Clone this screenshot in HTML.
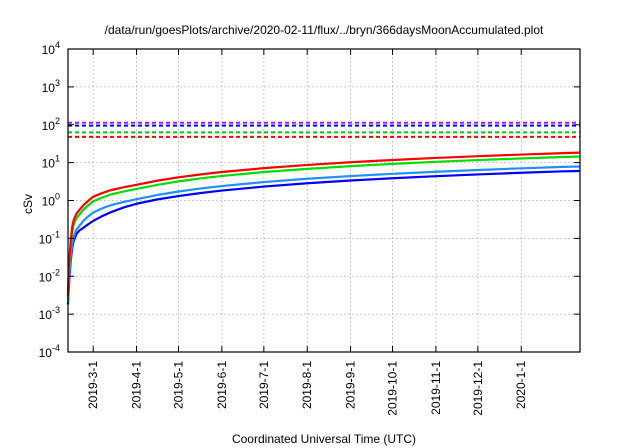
<!DOCTYPE html>
<html><head><meta charset="utf-8"><style>
body{margin:0;background:#fff}
svg{display:block;font-family:"Liberation Sans",sans-serif}
</style></head><body>
<svg id="c" width="640" height="448" viewBox="0 0 640 448">
<text x="324" y="34" font-size="12" text-anchor="middle">/data/run/goesPlots/archive/2020-02-11/flux/../bryn/366daysMoonAccumulated.plot</text>
<text x="324" y="443" font-size="12" text-anchor="middle">Coordinated Universal Time (UTC)</text>
<text x="32" y="204" font-size="12" text-anchor="middle" transform="rotate(-90 32 204)">cSv</text>
<g id="grid"></g><g id="series"></g><g id="axes"></g>
</svg>
<script>
const xTickLabels=["2019-3-1","2019-4-1","2019-5-1","2019-6-1","2019-7-1","2019-8-1","2019-9-1","2019-10-1","2019-11-1","2019-12-1","2020-1-1"];
const xTickDays=[18,49,79,110,140,171,202,232,263,293,324];
const yTickExps=[-4,-3,-2,-1,0,1,2,3,4];
const days=[0,0.5,1,1.5,2,3,4,6,8,11,14,18,24,30,40,49,64,79,95,110,140,171,202,232,263,293,324,354,366];
const redVals=[0.003,0.015,0.03,0.05,0.09,0.2,0.3,0.45,0.55,0.75,0.95,1.26,1.55,1.85,2.25,2.6,3.35,4.1,4.9,5.65,7.15,8.7,10.25,11.75,13.3,14.8,16.35,17.85,18.4];
const greenVals=[0.0025,0.011,0.022,0.038,0.065,0.15,0.23,0.34,0.42,0.57,0.72,0.95,1.18,1.42,1.74,2.02,2.6,3.2,3.85,4.45,5.65,6.85,8.1,9.25,10.5,11.7,12.9,14.1,14.5];
const lightBlueVals=[0.002,0.006,0.012,0.02,0.035,0.07,0.11,0.17,0.21,0.29,0.37,0.48,0.61,0.74,0.92,1.08,1.4,1.73,2.08,2.41,3.07,3.75,4.42,5.07,5.75,6.4,7.07,7.73,7.9];
const blueVals=[0.0018,0.0045,0.009,0.015,0.027,0.055,0.085,0.13,0.16,0.19,0.23,0.29,0.38,0.48,0.66,0.82,1.07,1.31,1.58,1.83,2.33,2.85,3.37,3.87,4.38,4.88,5.4,5.9,6.0];
const limitVals=[113,95,63,48];
const limitColors=["#a020f0","#0000ff","#00cc00","#ff0000"];
const L=68,R=580,T=49,B=352,D0=0,D1=366;
const xS=d=>L+(d-D0)/(D1-D0)*(R-L);
const yS=v=>B-(Math.log10(v)+4)/8*(B-T);
const NS="http://www.w3.org/2000/svg";
function mk(t,a,p){const e=document.createElementNS(NS,t);for(const k in a)e.setAttribute(k,a[k]);p.appendChild(e);return e;}
const grid=document.getElementById('grid'),ser=document.getElementById('series'),ax=document.getElementById('axes');
yTickExps.forEach(e=>{const y=yS(Math.pow(10,e));
 if(e>-4&&e<4){const g=mk('line',{x1:L,x2:R,y1:y,y2:y,stroke:'#aaa','stroke-width':0.8,'stroke-dasharray':'1.5,2.5'},grid);
 
 }
 const t=mk('text',{x:L-8,y:y+5,'font-size':12,'text-anchor':'end'},ax);
 
 
 t.textContent='10';const s=mk('tspan',{dy:-6,'font-size':9},t);s.textContent=e;
 mk('line',{x1:L,x2:L+6,y1:y,y2:y,stroke:'#000'},ax);mk('line',{x1:R,x2:R-6,y1:y,y2:y,stroke:'#000'},ax);});
xTickDays.forEach((d,i)=>{const x=xS(d);
 const g=mk('line',{x1:x,x2:x,y1:T,y2:B,stroke:'#aaa','stroke-width':0.8,'stroke-dasharray':'1.5,2.5'},grid);
 
 
 mk('line',{x1:x,x2:x,y1:B,y2:B-6,stroke:'#000'},ax);mk('line',{x1:x,x2:x,y1:T,y2:T+6,stroke:'#000'},ax);
 const t=mk('text',{x:0,y:0,'font-size':12,'text-anchor':'end',transform:`translate(${x+4},${B+9}) rotate(-90)`},ax);
 
 
 t.textContent=xTickLabels[i];});
limitVals.forEach((v,i)=>{const l=mk('line',{x1:L,x2:R,y1:yS(v),y2:yS(v),stroke:limitColors[i],'stroke-width':2,'stroke-dasharray':'4,3'},ser);
 
 });
[[blueVals,'#0000ff','blue-series'],[lightBlueVals,'#1e90ff','light-blue-series'],[greenVals,'#00dd00','green-series'],[redVals,'#ff0000','red-series']].forEach(([vals,c,n])=>{
 const p=mk('polyline',{points:days.map((d,i)=>xS(d)+','+yS(vals[i])).join(' '),fill:'none',stroke:c,'stroke-width':2.2,'stroke-linejoin':'round'},ser);
 
 });
const f=mk('rect',{x:L,y:T,width:R-L,height:B-T,fill:'none',stroke:'#000','stroke-width':1.2},ax);


</script>
</body></html>
